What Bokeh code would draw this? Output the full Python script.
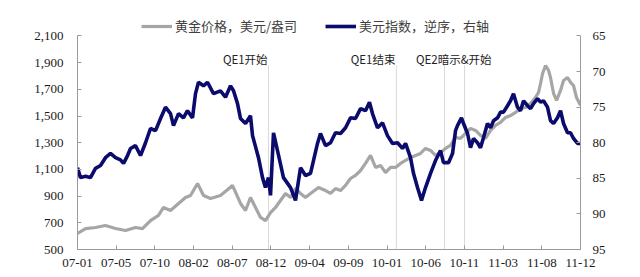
from bokeh.plotting import figure
from bokeh.models import (Range1d, LinearAxis, FixedTicker, NumeralTickFormatter,
                          CustomJSTickFormatter, Legend, LegendItem, Label, Segment,
                          ColumnDataSource)
from bokeh.embed import file_html
from bokeh.resources import INLINE

# x values: months since 2007-01
x_labels = ["07-01", "07-05", "07-10", "08-02", "08-07", "08-12", "09-04",
            "09-09", "10-01", "10-06", "10-11", "11-03", "11-08", "11-12"]
x_span = 59.0

gold_t = [0, 0.94, 2.11, 3.28, 4.46, 5.63, 6.80, 7.62, 8.56, 9.50, 10.09, 10.91, 11.85, 12.67,
          13.26, 14.08, 14.78, 15.60, 16.77, 17.48, 18.18, 19.12, 19.71, 20.29, 20.88, 21.47,
          22.05, 22.64, 23.23, 23.81, 24.40, 24.99, 25.57, 26.16, 26.74, 27.33, 28.27, 29.09,
          29.68, 30.26, 30.85, 31.44, 32.02, 32.61, 33.20, 33.78, 34.37, 34.96, 35.54, 36.13,
          36.72, 37.30, 37.89, 38.48, 39.06, 39.65, 40.23, 40.82, 41.41, 41.99, 42.58, 43.17,
          43.75, 44.34, 44.93, 45.51, 46.10, 46.69, 47.27, 47.86, 48.45, 49.03, 49.62, 50.21,
          50.79, 51.38, 51.96, 52.55, 53.14, 53.72, 54.08, 54.31, 54.55, 54.90, 55.25, 55.48,
          55.84, 56.19, 56.66, 57.01, 57.48, 57.83, 58.18, 58.53, 59.0]
gold_v = [620, 657, 665, 680, 657, 642, 665, 657, 717, 755, 815, 792, 845, 890,
          905, 995, 905, 882, 905, 942, 980, 845, 792, 890, 815, 740,
          717, 777, 815, 867, 920, 890, 957, 920, 890, 920, 965, 942,
          920, 957, 942, 980, 1032, 1055, 1092, 1145, 1205, 1115, 1130, 1077,
          1115, 1115, 1145, 1167, 1190, 1205, 1220, 1257, 1242, 1205, 1227, 1257,
          1280, 1340, 1332, 1370, 1407, 1392, 1355, 1332, 1392, 1430, 1452, 1490,
          1504, 1527, 1557, 1564, 1594, 1639, 1677, 1744, 1819, 1879, 1842, 1789,
          1669, 1617, 1692, 1767, 1789, 1752, 1729, 1639, 1580]

usd_t = [0, 0.35, 0.94, 1.52, 2.11, 2.70, 3.28, 3.87, 4.46, 5.04, 5.40, 5.87, 6.22, 6.80,
         7.39, 7.98, 8.56, 9.15, 9.74, 10.32, 10.91, 11.26, 11.85, 12.43, 12.90, 13.49,
         13.84, 14.19, 14.78, 15.25, 15.95, 16.77, 17.36, 17.95, 18.30, 18.77, 19.12, 19.71,
         20.29, 20.53, 21.23, 21.70, 22.05, 22.40, 22.64, 22.99, 23.46, 24.16, 24.99, 25.57,
         26.16, 26.74, 27.33, 27.68, 28.15, 28.50, 29.09, 29.68, 30.26, 30.85, 31.44, 32.02,
         32.61, 33.20, 33.78, 34.25, 34.60, 35.19, 35.78, 36.36, 36.95, 37.54, 38.12, 38.48,
         39.06, 39.41, 39.88, 40.35, 40.82, 41.41, 41.99, 42.58, 42.93, 43.52, 43.99, 44.34,
         44.57, 45.04, 45.28, 45.75, 46.10, 46.45, 46.92, 47.27, 47.62, 48.09, 48.45, 48.80,
         49.27, 49.62, 49.97, 50.44, 50.79, 51.14, 51.61, 51.96, 52.32, 52.79, 53.14, 53.49,
         53.96, 54.31, 54.66, 55.13, 55.48, 55.84, 56.30, 56.66, 57.01, 57.48, 57.83, 58.18,
         58.65, 59.0]
usd_v = [83.5, 84.9, 84.7, 84.9, 83.6, 83.2, 82.1, 81.5, 82.1, 82.4, 82.9, 81.8, 80.8, 80.4,
         81.8, 80.0, 78.0, 78.3, 76.6, 75.0, 75.9, 77.6, 75.9, 76.5, 75.5, 76.5,
         73.1, 71.5, 72.0, 71.5, 73.1, 72.7, 73.6, 72.0, 72.7, 74.5, 76.6, 77.3,
         76.2, 79.0, 82.1, 84.9, 86.3, 84.9, 87.4, 78.6, 81.1, 84.9, 86.3, 88.1,
         83.5, 84.6, 84.3, 82.5, 80.1, 78.7, 80.4, 80.0, 78.6, 78.7, 77.9, 76.5,
         76.6, 75.2, 75.5, 74.3, 75.9, 77.9, 77.2, 79.0, 80.1, 80.0, 80.8, 80.1,
         82.1, 84.3, 86.3, 88.1, 86.3, 84.3, 82.5, 81.1, 82.8, 82.8, 81.5, 78.3,
         77.6, 76.5, 77.3, 78.7, 80.7, 79.4, 80.0, 80.7, 79.3, 77.3, 77.9, 76.9,
         76.5, 75.7, 75.7, 74.8, 74.1, 73.1, 75.0, 75.5, 74.1, 74.8, 75.2, 74.5,
         73.8, 74.3, 74.1, 75.0, 76.9, 77.3, 76.5, 75.5, 77.3, 78.6, 78.6, 79.4,
         80.1, 80.1]

event_t = [22.4, 37.4, 43.05, 45.4]
gold_ticks = [500, 700, 900, 1100, 1300, 1500, 1700, 1900, 2100]
usd_ticks = [65, 70, 75, 80, 85, 90, 95]

GOLD = "#A6A6A6"
NAVY = "#0B0B6E"
AX = "#9A9A9A"
SERIF = "Liberation Serif"
CJK = "Noto Sans CJK SC"

# frame extends above the 2,100 / 65 level to leave room for the legend
p = figure(width=640, height=277, output_backend="svg", toolbar_location=None,
           x_range=Range1d(0, x_span), y_range=Range1d(500, 2261),
           min_border_left=77, min_border_right=60, min_border_top=14, min_border_bottom=28)
p.outline_line_color = None
p.xgrid.visible = False
p.ygrid.visible = False
p.background_fill_color = "white"
p.border_fill_color = "white"
p.extra_y_ranges = {"usd": Range1d(95, 61.98)}

# event lines
p.add_glyph(ColumnDataSource(dict(x=event_t, y0=[500] * 4, y1=[1880] * 4)),
            Segment(x0="x", y0="y0", x1="x", y1="y1", line_color="#D9D9D9", line_width=1))

r_gold = p.line(gold_t, gold_v, line_color=GOLD, line_width=3.2)
r_usd = p.line(usd_t, usd_v, line_color=NAVY, line_width=3.6, y_range_name="usd")

def style(ax):
    ax.axis_line_color = AX
    ax.major_tick_line_color = AX
    ax.major_tick_in = 4
    ax.major_tick_out = 0
    ax.minor_tick_line_color = None
    ax.major_label_text_font = SERIF
    ax.major_label_text_font_size = "13px"
    ax.major_label_text_color = "#1a1a1a"

xa = p.xaxis[0]
style(xa)
xa.ticker = FixedTicker(ticks=[i * x_span / (len(x_labels) - 1) for i in range(len(x_labels))])
xa.formatter = CustomJSTickFormatter(args=dict(labels=x_labels, span=x_span),
    code="return labels[Math.round(tick * (labels.length - 1) / span)];")
xa.major_label_standoff = 9

ya = p.yaxis[0]
style(ya)
ya.ticker = FixedTicker(ticks=gold_ticks)
ya.formatter = NumeralTickFormatter(format="0,0")
ya.major_label_standoff = 14
ya.bounds = (500, 2100)

ra = LinearAxis(y_range_name="usd", ticker=FixedTicker(ticks=usd_ticks), bounds=(65, 95))
style(ra)
ra.major_label_standoff = 12
p.add_layout(ra, "right")

# annotations
lab_kw = dict(text_font=CJK, text_font_size="11.5px", text_color="#222222",
              text_baseline="middle", y=1930)
p.add_layout(Label(x=22.3, text="QE1开始", text_align="right", **lab_kw))
p.add_layout(Label(x=37.3, text="QE1结束", text_align="right", **lab_kw))
p.add_layout(Label(x=39.7, text="QE2暗示&开始", text_align="left", **lab_kw))

legend = Legend(items=[LegendItem(label="黄金价格，美元/盎司", renderers=[r_gold]),
                       LegendItem(label="美元指数，逆序，右轴", renderers=[r_usd])],
                orientation="horizontal", location=(64, 214))
legend.label_text_font = CJK
legend.label_text_font_size = "13px"
legend.label_text_color = "#404040"
legend.glyph_width = 31
legend.glyph_height = 14
legend.label_height = 14
legend.label_standoff = 3
legend.spacing = 28
legend.padding = 0
legend.margin = 0
legend.border_line_color = None
legend.background_fill_alpha = 0
p.add_layout(legend, "center")

open("out.html", "w").write(file_html(p, INLINE))
